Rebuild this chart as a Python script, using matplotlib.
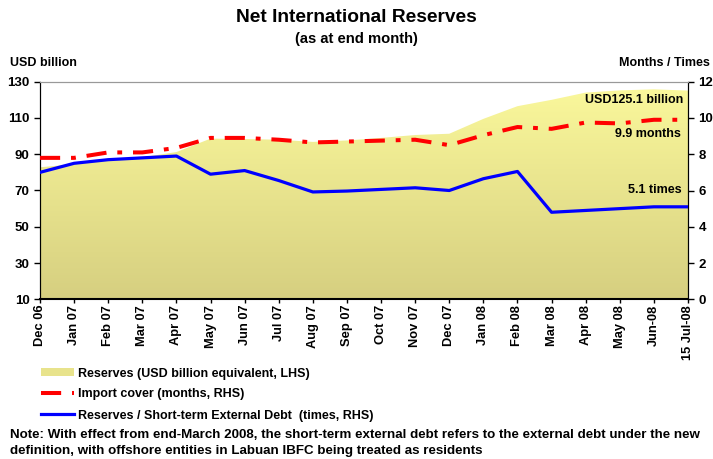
import numpy as np
import matplotlib
matplotlib.use('Agg')
import matplotlib.pyplot as plt
from matplotlib.patches import Patch
from matplotlib.lines import Line2D

plt.rcParams['font.family'] = ['Liberation Sans', 'DejaVu Sans']
plt.rcParams['font.weight'] = 'bold'

# Data
months = ['Dec 06', 'Jan 07', 'Feb 07', 'Mar 07', 'Apr 07', 'May 07', 'Jun 07',
          'Jul 07', 'Aug 07', 'Sep 07', 'Oct 07', 'Nov 07', 'Dec 07', 'Jan 08',
          'Feb 08', 'Mar 08', 'Apr 08', 'May 08', 'Jun-08', '15 Jul-08']
reserves = [82.8, 84.5, 86.6, 88.3, 91.2, 98.6, 98.4, 98.0, 96.8, 97.6,
            99.0, 100.6, 101.3, 109.5, 116.5, 120.0, 124.0, 125.2, 125.8, 125.1]
import_cover = [7.8, 7.8, 8.1, 8.1, 8.35, 8.9, 8.9, 8.8, 8.65, 8.7,
                8.75, 8.8, 8.5, 9.05, 9.5, 9.4, 9.75, 9.7, 9.9, 9.9]
st_debt_ratio = [7.0, 7.5, 7.7, 7.8, 7.9, 6.9, 7.1, 6.55, 5.92, 5.97,
                 6.06, 6.15, 6.0, 6.65, 7.05, 4.8, 4.9, 5.0, 5.1, 5.1]

x = np.arange(len(months))
red_dash = (5, 2.7, 1.2, 2.7)

fig = plt.figure(figsize=(7.13, 4.59), dpi=100)
ax = fig.add_axes([40 / 713, 1 - 299.3 / 459, 648 / 713, 217.6 / 459])
ax2 = ax.twinx()

# reserves area with vertical gradient
ax.set_xlim(0, len(months) - 1)
ax.set_ylim(10, 130)
poly = ax.fill_between(x, 10, reserves, color='none', lw=0)
grad = np.linspace(0, 1, 256).reshape(-1, 1)
cmap = matplotlib.colors.LinearSegmentedColormap.from_list('g', ['#d6cf80', '#fbf99c'])
img = ax.imshow(grad, cmap=cmap, aspect='auto', origin='lower',
                extent=[0, len(months) - 1, 10, 130], zorder=1)
img.set_clip_path(poly.get_paths()[0], transform=ax.transData)

ax2.set_ylim(0, 12)
ax2.plot(x, import_cover, color='#ff0000', lw=2.9, dashes=red_dash, zorder=3)
ax2.plot(x, st_debt_ratio, color='#0000ff', lw=2.3, zorder=4)

ax.set_yticks(range(10, 131, 20))
ax2.set_yticks(range(0, 13, 2))
ax.set_xticks(x)
ax.set_xticklabels(months, rotation=90, fontsize=9.3, fontweight='bold')
for a in (ax, ax2):
    a.tick_params(axis='y', labelsize=9.5, length=4, width=1)
    a.spines['top'].set_color('#999999')
    a.spines['top'].set_linewidth(0.8)
    a.spines['bottom'].set_visible(False)
ax.tick_params(axis='x', length=3, width=1, pad=1)
for lab in ax.get_yticklabels() + ax2.get_yticklabels():
    lab.set_fontweight('bold')
ax.axhline(10, color='black', lw=1.5, zorder=5, clip_on=False)

ax2.text(18.85, 11.0, 'USD125.1 billion', ha='right', va='center', fontsize=9)
ax2.text(18.8, 9.1, '9.9 months', ha='right', va='center', fontsize=9)
ax2.text(18.8, 6.03, '5.1 times', ha='right', va='center', fontsize=9)

fig.text(0.5, 1 - 18 / 459, 'Net International Reserves', ha='center', va='center', fontsize=13.8)
fig.text(0.5, 1 - 39 / 459, '(as at end month)', ha='center', va='center', fontsize=10.6)
fig.text(10 / 713, 1 - 63 / 459, 'USD billion', ha='left', va='center', fontsize=9)
fig.text(710 / 713, 1 - 63 / 459, 'Months / Times', ha='right', va='center', fontsize=9)

handles = [Patch(facecolor='#e8e38c', edgecolor='none'),
           Line2D([], [], color='#ff0000', lw=2.9, dashes=red_dash),
           Line2D([], [], color='#0000ff', lw=2.3)]
labels = ['Reserves (USD billion equivalent, LHS)', 'Import cover (months, RHS)',
          'Reserves / Short-term External Debt  (times, RHS)']
fig.legend(handles, labels, loc='upper left', bbox_to_anchor=(33 / 713, 1 - 360 / 459),
           frameon=False, handlelength=2.7, handletextpad=0.3, handleheight=0.6,
           labelspacing=0.72, prop={'weight': 'bold', 'size': 9}, borderaxespad=0.2)

fig.text(10 / 713, 1 - 435 / 459,
         'Note: With effect from end-March 2008, the short-term external debt refers to the external debt under the new',
         ha='left', va='center', fontsize=9.6)
fig.text(10 / 713, 1 - 451 / 459,
         'definition, with offshore entities in Labuan IBFC being treated as residents',
         ha='left', va='center', fontsize=9.6)

fig.savefig('out.png', dpi=100)
